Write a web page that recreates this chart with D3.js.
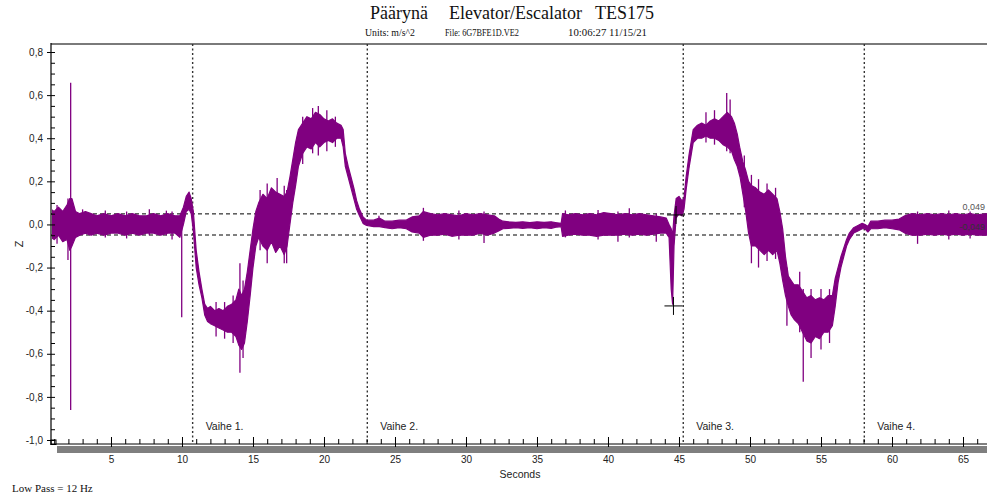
<!DOCTYPE html>
<html>
<head>
<meta charset="utf-8">
<script src="https://cdn.jsdelivr.net/npm/d3@7"></script>
<style>
  html, body { margin: 0; padding: 0; background: #fff; }
  svg { display: block; }
  text { font-family: "Liberation Sans", Arial, sans-serif; }
  text.serif, .serif text { font-family: "Liberation Serif", "Times New Roman", serif; }
</style>
</head>
<body>
<svg id="chart" width="987" height="495"></svg>
<script>
// Vertical acceleration (Z, m/s^2) against time (s): envelope of the recorded trace
const time = [
  0.77, 1.0, 1.3, 1.6, 1.9, 2.1, 2.25, 2.5, 2.8, 3.2, 3.6, 4.0, 4.5, 5.0, 5.5, 6.0, 6.5, 7.0, 7.5, 8.0,
  8.5, 9.0, 9.5, 9.85, 10.1, 10.3, 10.5, 10.65, 10.8, 11.0, 11.2, 11.4, 11.6, 11.8, 12.0, 12.3, 12.6, 12.9, 13.2, 13.5,
  13.8, 14.0, 14.2, 14.4, 14.6, 14.8, 15.0, 15.2, 15.4, 15.7, 16.0, 16.3, 16.6, 16.9, 17.2, 17.4, 17.6, 17.8, 18.0, 18.2,
  18.5, 18.8, 19.1, 19.4, 19.7, 20.0, 20.3, 20.6, 20.9, 21.2, 21.35, 21.5, 21.7, 21.9, 22.1, 22.3, 22.5, 22.75, 23.0, 23.5,
  23.9, 24.3, 24.8, 25.3, 25.8, 26.2, 26.7, 27.0, 27.5, 28.0, 28.5, 29.0, 29.5, 30.0, 30.5, 31.0, 31.5, 32.0, 32.3, 32.6,
  33.0, 33.5, 34.0, 34.5, 35.0, 35.5, 36.0, 36.4, 36.7, 36.8, 37.2, 37.7, 38.2, 38.7, 39.2, 39.7, 40.2, 40.7, 41.2, 41.7,
  42.2, 42.7, 43.2, 43.7, 44.1, 44.3, 44.45, 44.55, 44.65, 44.8, 45.0, 45.2, 45.35, 45.5, 45.7, 45.9, 46.0, 46.3, 46.6, 46.9,
  47.2, 47.5, 47.8, 48.1, 48.4, 48.7, 48.9, 49.1, 49.3, 49.5, 49.7, 49.9, 50.1, 50.4, 50.7, 51.0, 51.3, 51.6, 51.9, 52.1,
  52.3, 52.5, 52.7, 52.9, 53.1, 53.4, 53.7, 54.0, 54.3, 54.6, 54.9, 55.2, 55.5, 55.8, 56.0, 56.2, 56.4, 56.6, 56.8, 57.0,
  57.3, 57.6, 57.9, 58.1, 58.3, 58.5, 59.0, 59.5, 60.0, 60.5, 60.9, 61.4, 62.0, 62.5, 63.0, 63.5, 64.0, 64.5, 65.0, 65.5,
  66.0, 66.7
];
const upper = [
  0.07, 0.06, 0.08, 0.06, 0.09, 0.12, 0.12, 0.06, 0.05, 0.06, 0.05, 0.04, 0.05, 0.04, 0.05, 0.04, 0.05, 0.04, 0.04, 0.05,
  0.04, 0.05, 0.04, 0.04, 0.08, 0.13, 0.15, 0.12, 0.06, -0.12, -0.22, -0.30, -0.37, -0.39, -0.38, -0.40, -0.39, -0.40, -0.38, -0.37,
  -0.35, -0.30, -0.33, -0.30, -0.22, -0.12, -0.02, 0.06, 0.10, 0.14, 0.12, 0.17, 0.15, 0.14, 0.13, 0.15, 0.22, 0.30, 0.38, 0.44,
  0.47, 0.50, 0.49, 0.52, 0.51, 0.49, 0.48, 0.49, 0.47, 0.46, 0.44, 0.33, 0.27, 0.22, 0.17, 0.11, 0.07, 0.035, 0.02, 0.02,
  0.03, 0.015, 0.015, 0.02, 0.02, 0.035, 0.04, 0.06, 0.05, 0.045, 0.05, 0.045, 0.04, 0.05, 0.045, 0.05, 0.045, 0.04, 0.025, 0.015,
  0.012, 0.01, 0.012, 0.008, 0.012, 0.01, 0.012, 0.008, 0.005, 0.05, 0.045, 0.05, 0.045, 0.05, 0.045, 0.055, 0.05, 0.045, 0.05, 0.045,
  0.05, 0.045, 0.04, 0.035, 0.03, 0.0, -0.02, -0.05, 0.04, 0.12, 0.13, 0.11, 0.12, 0.22, 0.32, 0.40, 0.44, 0.46, 0.47, 0.46,
  0.48, 0.49, 0.48, 0.50, 0.52, 0.50, 0.47, 0.42, 0.35, 0.29, 0.25, 0.20, 0.18, 0.17, 0.15, 0.14, 0.16, 0.14, 0.12, 0.06,
  -0.02, -0.15, -0.24, -0.26, -0.28, -0.28, -0.31, -0.34, -0.33, -0.35, -0.34, -0.35, -0.33, -0.33, -0.25, -0.20, -0.15, -0.11, -0.07, -0.04,
  -0.015, -0.005, 0.005, 0.0, -0.01, 0.015, 0.015, 0.02, 0.02, 0.025, 0.04, 0.05, 0.045, 0.05, 0.045, 0.05, 0.045, 0.05, 0.045, 0.05,
  0.045, 0.05
];
const lower = [
  -0.06, -0.07, -0.05, -0.08, -0.07, -0.12, -0.10, -0.06, -0.05, -0.04, -0.05, -0.04, -0.05, -0.04, -0.04, -0.05, -0.04, -0.05, -0.04, -0.04,
  -0.05, -0.04, -0.04, -0.06, 0.0, 0.06, 0.07, 0.05, -0.03, -0.20, -0.28, -0.34, -0.42, -0.45, -0.46, -0.47, -0.48, -0.49, -0.50, -0.50,
  -0.52, -0.56, -0.58, -0.55, -0.45, -0.33, -0.20, -0.10, -0.06, -0.10, -0.12, -0.08, -0.13, -0.10, -0.14, -0.10, 0.0, 0.10, 0.18, 0.27,
  0.33, 0.36, 0.35, 0.38, 0.36, 0.38, 0.39, 0.38, 0.40, 0.40, 0.36, 0.27, 0.22, 0.17, 0.12, 0.07, 0.04, 0.005, -0.005, -0.01,
  -0.01, -0.015, -0.02, -0.015, -0.02, -0.035, -0.04, -0.06, -0.05, -0.05, -0.045, -0.055, -0.05, -0.05, -0.05, -0.04, -0.05, -0.04, -0.03, -0.02,
  -0.018, -0.015, -0.018, -0.015, -0.02, -0.015, -0.018, -0.012, -0.01, -0.055, -0.05, -0.045, -0.05, -0.05, -0.055, -0.05, -0.05, -0.05, -0.045, -0.05,
  -0.045, -0.05, -0.045, -0.04, -0.04, -0.06, -0.30, -0.37, -0.10, 0.03, 0.05, 0.04, 0.07, 0.16, 0.26, 0.34, 0.38, 0.40, 0.40, 0.41,
  0.40, 0.40, 0.39, 0.37, 0.36, 0.34, 0.30, 0.27, 0.22, 0.14, 0.06, -0.04, -0.10, -0.10, -0.12, -0.14, -0.12, -0.14, -0.12, -0.18,
  -0.26, -0.33, -0.38, -0.42, -0.44, -0.46, -0.50, -0.54, -0.55, -0.52, -0.53, -0.50, -0.50, -0.47, -0.38, -0.27, -0.20, -0.15, -0.10, -0.07,
  -0.04, -0.03, -0.02, -0.02, -0.035, -0.02, -0.02, -0.015, -0.02, -0.025, -0.04, -0.05, -0.05, -0.045, -0.05, -0.045, -0.05, -0.045, -0.05, -0.045,
  -0.05, -0.05
];

// Individual excursions that stand out of the band: time, top, bottom
const spikeTime   = [1.2, 1.97, 2.16, 3.0, 4.6, 6.1, 7.7, 8.9, 9.3, 9.98, 12.4, 13.0, 13.6, 14.08, 14.3,
                     15.5, 16.0, 16.7, 17.2, 17.37, 18.5, 19.2, 19.6, 20.2, 20.8, 23.87, 27.0, 29.5, 31.27,
                     37.0, 39.3, 40.7, 41.5, 43.4, 46.9, 47.5, 48.36, 48.6, 49.6, 50.1, 50.6, 51.2, 51.8,
                     52.6, 53.5, 53.75, 54.3, 55.0, 55.6, 61.8, 64.0, 65.5];
const spikeTop    = [0.09, 0.12, 0.657, 0.07, 0.065, 0.06, 0.07, 0.064, 0.06, 0.03, -0.36, -0.36, -0.33, -0.18, -0.26,
                     0.16, 0.19, 0.215, 0.18, 0.16, 0.50, 0.54, 0.55, 0.53, 0.50, 0.04, 0.077, 0.065, 0.06,
                     0.065, 0.067, 0.06, 0.075, 0.05, 0.52, 0.53, 0.61, 0.58, 0.32, 0.23, 0.21, 0.19, 0.17,
                     -0.20, -0.22, -0.30, -0.30, -0.30, -0.30, 0.06, 0.065, 0.06];
const spikeBottom = [-0.09, -0.165, -0.861, -0.02, -0.06, -0.065, -0.05, -0.05, -0.07, -0.43, -0.52, -0.53, -0.55, -0.688, -0.62,
                     -0.12, -0.18, -0.12, -0.18, -0.18, 0.28, 0.33, 0.32, 0.34, 0.36, -0.01, -0.076, -0.07, -0.086,
                     -0.06, -0.07, -0.08, -0.06, -0.08, 0.38, 0.37, 0.34, 0.33, 0.08, -0.18, -0.20, -0.17, -0.16,
                     -0.47, -0.50, -0.73, -0.62, -0.58, -0.55, -0.09, -0.07, -0.065];

// Phase markers and their labels
const phaseTime  = [10.75, 23.05, 45.3, 58.05];
const phaseLabel = ["Vaihe 1.", "Vaihe 2.", "Vaihe 3.", "Vaihe 4."];

// Threshold lines
const thresholdValue = [0.049, -0.049];
const thresholdLabel = ["0,049", "-0,049"];

// Cursor crosses
const cursorTime  = [44.61, 44.79];
const cursorValue = [-0.378, 0.044];

// Axis ticks
const xTickLabels = [5, 10, 15, 20, 25, 30, 35, 40, 45, 50, 55, 60, 65];
const yTickLabels = [0.8, 0.6, 0.4, 0.2, 0.0, -0.2, -0.4, -0.6, -0.8, -1.0];

const svg = d3.select("#chart");
const plotLeft = 51, plotRight = 987, plotTop = 44, axisY = 444;

const x = d3.scaleLinear().domain([0.775, 66.69]).range([plotLeft, plotRight]);
const y = d3.scaleLinear().domain([-1.0, 0.8]).range([440, 52]);

const fi = d3.formatLocale({decimal: ",", thousands: ".", grouping: [3], currency: ["", ""], minus: "-"});
const f1 = fi.format(".1f");

// Titles
const title = svg.append("g").attr("class", "serif").attr("fill", "#111");
title.append("text").attr("x", 370).attr("y", 19).attr("font-size", 18).text("Päärynä");
title.append("text").attr("x", 449).attr("y", 19).attr("font-size", 18).text("Elevator/Escalator");
title.append("text").attr("x", 595).attr("y", 19).attr("font-size", 18).text("TES175");
const sub = svg.append("g").attr("class", "serif").attr("fill", "#111").attr("font-size", 10);
sub.append("text").attr("x", 365).attr("y", 35.5).attr("textLength", 50)
  .attr("lengthAdjust", "spacingAndGlyphs").text("Units: m/s^2");
sub.append("text").attr("x", 445).attr("y", 35.5).attr("textLength", 74)
  .attr("lengthAdjust", "spacingAndGlyphs").text("File: 6G7BFE1D.VE2");
sub.append("text").attr("x", 568).attr("y", 35.5).attr("textLength", 79)
  .attr("lengthAdjust", "spacingAndGlyphs").text("10:06:27 11/15/21");

// Frame: top border
svg.append("line").attr("x1", plotLeft).attr("x2", plotRight).attr("y1", plotTop).attr("y2", plotTop)
  .attr("stroke", "#7a7a7a").attr("stroke-width", 2);

// Grey band under the time axis
svg.append("rect").attr("x", 57).attr("y", 446).attr("width", plotRight - 57).attr("height", 7)
  .attr("fill", "#7f7f7f");

// Clip for data marks
svg.append("clipPath").attr("id", "plot").append("rect")
  .attr("x", plotLeft + 1).attr("y", plotTop + 1).attr("width", plotRight - plotLeft).attr("height", axisY - plotTop - 1);

// Threshold dashed lines
svg.append("g").selectAll("line").data(thresholdValue).join("line")
  .attr("x1", plotLeft).attr("x2", plotRight).attr("y1", d => y(d)).attr("y2", d => y(d))
  .attr("stroke", "#000").attr("stroke-width", 1).attr("stroke-dasharray", "4,3");

// Phase dotted lines
svg.append("g").selectAll("line").data(phaseTime).join("line")
  .attr("x1", d => x(d)).attr("x2", d => x(d)).attr("y1", plotTop).attr("y2", axisY)
  .attr("stroke", "#333").attr("stroke-width", 1.4).attr("stroke-dasharray", "2,2.5");

svg.append("g").selectAll("text").data(phaseTime).join("text")
  .attr("x", d => x(d) + 13).attr("y", 430).attr("font-size", 10.5).attr("fill", "#222")
  .text((d, i) => phaseLabel[i]);

// Trace
const env = time.map((t, i) => ({t, hi: upper[i], lo: lower[i]}));
const plot = svg.append("g").attr("clip-path", "url(#plot)");
plot.append("path").datum(env)
  .attr("d", d3.area().x(d => x(d.t)).y0(d => y(d.lo)).y1(d => y(d.hi)))
  .attr("fill", "#800080").attr("stroke", "#800080").attr("stroke-width", 1.2).attr("stroke-linejoin", "round");
plot.append("g").selectAll("line").data(spikeTime).join("line")
  .attr("x1", d => x(d)).attr("x2", d => x(d))
  .attr("y1", (d, i) => y(spikeTop[i])).attr("y2", (d, i) => y(spikeBottom[i]))
  .attr("stroke", "#800080").attr("stroke-width", 1.3);

// Threshold labels
svg.append("g").selectAll("text").data(thresholdValue).join("text")
  .attr("x", 985).attr("text-anchor", "end").attr("y", (d, i) => i === 0 ? 210 : 230)
  .attr("font-size", 9).attr("fill", (d, i) => i === 0 ? "#555" : "#333")
  .text((d, i) => thresholdLabel[i]);

// Cursor crosses
const cross = svg.append("g").attr("stroke", "#000").attr("stroke-width", 1);
cursorTime.forEach((t, i) => {
  const cx = x(t), cy = y(cursorValue[i]);
  cross.append("line").attr("x1", cx - 9).attr("x2", cx + 9).attr("y1", cy).attr("y2", cy);
  cross.append("line").attr("x1", cx).attr("x2", cx).attr("y1", cy - 9).attr("y2", cy + 9);
});

// Y axis
const yAxis = svg.append("g").attr("transform", `translate(${plotLeft},0)`)
  .call(d3.axisLeft(y).tickValues(yTickLabels).tickSize(4).tickPadding(4).tickFormat(f1));
yAxis.select(".domain").remove();
yAxis.selectAll("text").attr("font-size", 10).attr("fill", "#222").attr("font-family", "Liberation Sans, Arial, sans-serif");
const yMinor = svg.append("g").attr("transform", `translate(${plotLeft},0)`)
  .call(d3.axisRight(y).tickValues(d3.range(-20, 17).map(k => k * 0.05)).tickSize(4).tickFormat(""));
yMinor.select(".domain").remove();
svg.append("line").attr("x1", plotLeft).attr("x2", plotLeft).attr("y1", plotTop - 1).attr("y2", axisY + 1)
  .attr("stroke", "#000").attr("stroke-width", 1.2);
svg.append("rect").attr("x", plotLeft).attr("y", 440).attr("width", 5).attr("height", 4.5)
  .attr("fill", "none").attr("stroke", "#000").attr("stroke-width", 1);

// X axis
const xMinor = svg.append("g").attr("transform", `translate(0,${axisY})`)
  .call(d3.axisTop(x).tickValues(d3.range(1, 67)).tickSize(5).tickFormat(""));
xMinor.select(".domain").remove();
const xMajor = svg.append("g").attr("transform", `translate(0,${axisY})`)
  .call(d3.axisTop(x).tickValues(xTickLabels).tickSize(7).tickFormat(""));
xMajor.select(".domain").remove();
const xAxis = svg.append("g").attr("transform", `translate(0,${axisY})`)
  .call(d3.axisBottom(x).tickValues(xTickLabels).tickSize(3).tickPadding(9));
xAxis.select(".domain").remove();
xAxis.selectAll("text").attr("font-size", 10).attr("fill", "#222").attr("font-family", "Liberation Sans, Arial, sans-serif");
svg.append("line").attr("x1", plotLeft).attr("x2", plotRight).attr("y1", axisY).attr("y2", axisY)
  .attr("stroke", "#000").attr("stroke-width", 1.2);

// Axis titles
svg.append("text").attr("x", 520).attr("y", 478).attr("text-anchor", "middle")
  .attr("font-size", 10.5).attr("fill", "#222").text("Seconds");
svg.append("text").attr("transform", "translate(23,244) rotate(-90)").attr("text-anchor", "middle")
  .attr("font-size", 11).attr("fill", "#222").text("Z");

// Filter note
svg.append("text").attr("class", "serif").attr("x", 12).attr("y", 492)
  .attr("font-size", 11).attr("fill", "#111").text("Low Pass = 12 Hz");
</script>
</body>
</html>
